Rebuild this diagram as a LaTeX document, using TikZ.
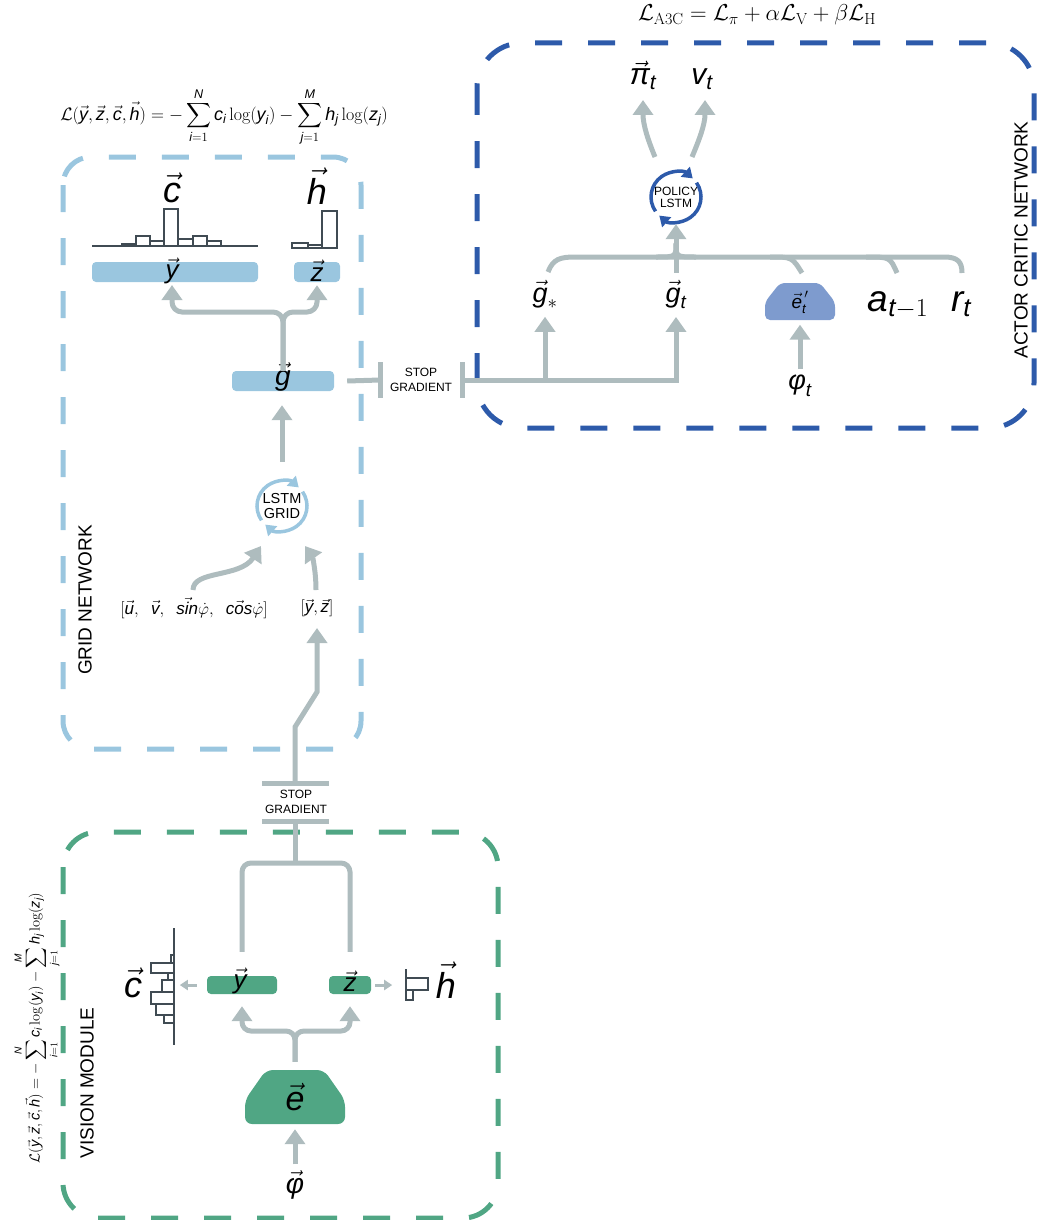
\RequirePackage{fix-cm}
\documentclass[tikz,border=0pt]{standalone}
\usepackage{amsmath}
\usepackage{exscale}
\usepackage{fontspec}
\setsansfont{Liberation Sans}
\usetikzlibrary{arrows.meta}

\definecolor{flowgray}{HTML}{AEBCBE}
\definecolor{gridblue}{HTML}{9AC6DF}
\definecolor{acblue}{HTML}{2D5AAA}
\definecolor{visgreen}{HTML}{50A684}
\definecolor{eblue}{HTML}{7E9BCE}
\definecolor{histgray}{HTML}{404B53}

\newcommand{\fs}[1]{\fontsize{#1}{#1}\selectfont}
\newcommand{\sv}[1]{\text{\sffamily\itshape #1}}
\newcommand{\celoss}{\mathcal{L}(\vec{\sv{y}},\vec{\sv{z}},\vec{\sv{c}},\vec{\sv{h}})=-\sum_{\sv{i}=1}^{\sv{N}}\sv{c}_{\sv{i}}\log(\sv{y}_{\sv{i}})-\sum_{\sv{j}=1}^{\sv{M}}\sv{h}_{\sv{j}}\log(\sv{z}_{\sv{j}})}

\begin{document}
\begin{tikzpicture}[x=1pt,y=1pt]
    \tikzstyle{flowarrow}=[draw=flowgray,line width=5pt,-{Triangle[width=20pt,length=15pt]}]
    \tikzstyle{wire}=[draw=flowgray,line width=5pt]
    \tikzstyle{sidearrow}=[draw=flowgray,line width=3pt,-{Triangle[width=10pt,length=8pt]}]
    \tikzstyle{module}=[line width=5pt,dash pattern=on 27pt off 26pt]
    \tikzstyle{featbar}=[rectangle,rounded corners=4pt,minimum height=20pt,inner sep=0pt]
    \tikzstyle{histline}=[draw=histgray,line width=1.1pt]
    \tikzstyle{modlabel}=[font=\sffamily\fs{19},rotate=90]
    \tikzstyle{sgtext}=[font=\sffamily\fontsize{12}{15}\selectfont,align=center,inner sep=0pt]
    \tikzstyle{lstm}=[circle,minimum size=54pt,inner sep=0pt,align=center]
    \tikzstyle{cyclearrow}=[line width=3.5pt,-{Triangle[width=13pt,length=10pt]}]
    \tikzstyle{var}=[inner sep=0pt]

    \useasboundingbox (0,0) rectangle (1038,-1220);

    % actor critic network
    \draw[module,draw=acblue,rounded corners=45pt] (477,-43) rectangle (1034,-428);
    \node[modlabel] (aclabel) at (1021,-240) {ACTOR CRITIC NETWORK};
    \node[font=\fs{23}] (acloss) at (757,-15) {$\mathcal{L}_{\mathrm{A3C}}=\mathcal{L}_{\pi}+\alpha\mathcal{L}_{\mathrm{V}}+\beta\mathcal{L}_{\mathrm{H}}$};

    \node[var,font=\fs{30},anchor=base] (pi) at (643,-85) {$\vec{\sv{π}}_{\sv{t}}$};
    \node[var,font=\fs{30},anchor=base] (v) at (702,-85) {$\sv{v}_{\sv{t}}$};
    \node[lstm,font=\sffamily\fs{12}] (policy) at (676,-197) {POLICY\\LSTM};
    \foreach \s/\e in {215/48,35/-132}
        \draw[cyclearrow,acblue] (policy.center) ++(\s:25) arc[start angle=\s,end angle=\e,radius=25];
    \draw[flowarrow] (655,-157) .. controls (648,-140) and (643,-125) .. (643,-100);
    \draw[flowarrow] (692,-157) .. controls (699,-140) and (705,-125) .. (705,-100);

    \node[var,font=\fs{27},anchor=base] (gstar) at (545,-302) {$\vec{\sv{g}}_{*}$};
    \node[var,font=\fs{27},anchor=base] (gt) at (676,-302) {$\vec{\sv{g}}_{\sv{t}}$};
    \fill[eblue,rounded corners=5pt] (765,-320) -- (835,-320) -- (835,-302) -- (820,-283) -- (780,-283) -- (765,-302) -- cycle;
    \node[minimum width=70pt,minimum height=37pt,inner sep=0pt,font=\fs{19}] (eprime) at (800,-302) {$\vec{\sv{e}}_{\sv{t}}^{\,\prime}$};
    \node[var,font=\fs{37},anchor=base] (atm) at (898,-311) {$\sv{a}_{\sv{t}-1}$};
    \node[var,font=\fs{37},anchor=base] (rt) at (961,-311) {$\sv{r}_{\sv{t}}$};
    \node[var,font=\fs{27}] (phit) at (800,-386) {$\sv{φ}_{\sv{t}}$};

    % merge into the policy lstm
    \draw[wire] (548,-272) .. controls (553,-259) and (560,-257) .. (575,-257) -- (944,-257) .. controls (958,-257) and (962,-262) .. (962,-273);
    \draw[wire] (770,-257) .. controls (792,-257) .. (802,-273);
    \draw[wire] (866,-257) .. controls (890,-257) .. (897,-273);
    \draw[wire] (656,-257) .. controls (676,-257) .. (676,-243);
    \draw[wire] (696,-257) .. controls (676,-257) .. (676,-243);
    \draw[flowarrow,shorten <=7pt] (gt.north) -- (policy.south);
    \draw[flowarrow,shorten <=6pt,shorten >=4pt] (phit.north) -- (eprime.south);

    % stop gradient to the actor critic
    \node[featbar,fill=gridblue,minimum width=102pt] (gbar) at (283,-381) {};
    \node[sgtext] (sgac) at (421,-380) {STOP\\GRADIENT};
    \draw[wire] ([xshift=13pt]gbar.east) -- (380,-380);
    \draw[wire] (380,-362) -- (380,-398);
    \draw[wire] (462,-362) -- (462,-398);
    \draw[flowarrow,shorten >=8pt] (462,-380) -| (gt.south);
    \draw[flowarrow,shorten >=8pt] (545,-380) -- (gstar.south);

    % grid network
    \draw[module,draw=gridblue,rounded corners=28pt] (63,-157) rectangle (361,-749);
    \node[modlabel] (gridlabel) at (85,-600) {GRID NETWORK};
    \node[font=\fs{18}] (gridloss) at (224,-117) {$\displaystyle\celoss$};

    \node[var,font=\fs{36}] (gc) at (172,-188) {$\vec{\sv{c}}$};
    \node[var,font=\fs{36}] (gh) at (317,-186) {$\vec{\sv{h}}$};
    \draw[histline] (92,-246) -- (258,-246);
    \foreach \xa/\xb/\ht in {122/136/2,136/150/10,150/164/5,164/178/37,178/193/7,193/207/10,207/221/5}
        \draw[histline] (\xa,-246) rectangle (\xb,-246+\ht);
    \foreach \xa/\xb/\ht in {292/308/5,308/322/3,322/337/37}
        \draw[histline] (\xa,-248) rectangle (\xb,-248+\ht);

    \node[featbar,fill=gridblue,minimum width=166pt] (ybar) at (175,-272) {};
    \node[var,font=\fs{26}] (ylab) at (172,-271) {$\vec{\sv{y}}$};
    \node[featbar,fill=gridblue,minimum width=46pt] (zbar) at (317,-272) {};
    \node[var,font=\fs{26}] (zlab) at (317,-271) {$\vec{\sv{z}}$};
    \node[var,font=\fs{28}] (glab) at (283,-377) {$\vec{\sv{g}}$};

    \draw[flowarrow,rounded corners=10pt,shorten >=3pt] (gbar.north) -- (283,-312) -| (172,-282);
    \draw[flowarrow,rounded corners=10pt,shorten >=3pt] (gbar.north) -- (283,-312) -| (zbar.south);

    \node[lstm,font=\sffamily\fs{14.5}] (gridlstm) at (282,-506) {LSTM\\GRID};
    \foreach \s/\e in {215/48,35/-132}
        \draw[cyclearrow,gridblue] (gridlstm.center) ++(\s:25) arc[start angle=\s,end angle=\e,radius=25];
    \draw[flowarrow,shorten <=17pt,shorten >=14pt] (gridlstm.north) -- (gridlstm.north |- gbar.south);

    \node[var,font=\fs{17}] (inputs) at (194,-608) {$[\vec{\sv{u}},\;\;\vec{\sv{v}},\;\;\vec{\sv{sin}}\dot{\varphi},\;\;\vec{\sv{cos}}\dot{\varphi}]$};
    \node[var,font=\fs{17}] (yz) at (317,-608) {$[\vec{\sv{y}},\vec{\sv{z}}]$};
    \draw[flowarrow] (193,-590) .. controls (193,-570) and (240,-578) .. (261,-546);
    \draw[flowarrow] (316,-590) .. controls (316,-570) and (312,-556) .. (305,-546);

    % stop gradient to the grid network
    \node[sgtext] (sggrid) at (296,-802) {STOP\\GRADIENT};
    \draw[wire] (262,-783) -- (329,-783);
    \draw[wire] (262,-821) -- (329,-821);
    \draw[flowarrow] (295,-783) -- (295,-727) -- (317,-692) -- (317,-628);

    % vision module
    \draw[module,draw=visgreen,rounded corners=35pt] (63,-832) rectangle (498,-1218);
    \node[modlabel] (vislabel) at (87,-1083) {VISION MODULE};
    \node[font=\fs{14.5},rotate=90] (visloss) at (37,-1028) {$\displaystyle\celoss$};

    \node[featbar,fill=visgreen,minimum width=70pt,minimum height=18pt] (vy) at (242,-985) {};
    \node[var,font=\fs{26}] (vylab) at (240,-981) {$\vec{\sv{y}}$};
    \node[featbar,fill=visgreen,minimum width=42pt,minimum height=18pt] (vz) at (350,-985) {};
    \node[var,font=\fs{26}] (vzlab) at (350,-981) {$\vec{\sv{z}}$};
    \coordinate (vsplit) at (295,-863);
    \draw[wire,rounded corners=9pt,shorten <=24pt,shorten >=24pt] (vy.north) |- (vsplit) -| (vz.north);
    \draw[wire] (vsplit) -- (295,-821);

    \fill[visgreen,rounded corners=7pt] (245,-1124) -- (345,-1124) -- (345,-1100) -- (324,-1070) -- (266,-1070) -- (245,-1100) -- cycle;
    \node[minimum width=100pt,minimum height=54pt,inner sep=0pt,font=\fs{34}] (enc) at (295,-1097) {$\vec{\sv{e}}$};
    \draw[flowarrow,rounded corners=9pt,shorten <=8pt,shorten >=12pt] (enc.north) -- (295,-1031) -| (vy.south);
    \draw[flowarrow,rounded corners=9pt,shorten <=8pt,shorten >=12pt] (enc.north) -- (295,-1031) -| (vz.south);
    \node[var,font=\fs{28}] (phi) at (295,-1185) {$\vec{\sv{φ}}$};
    \draw[flowarrow,shorten <=6pt,shorten >=5pt] (phi.north) -- (enc.south);

    \draw[sidearrow] ([xshift=-10pt]vy.west) -- ([xshift=-27pt]vy.west);
    \draw[sidearrow] ([xshift=4pt]vz.east) -- ([xshift=21pt]vz.east);

    \node[var,font=\fs{36}] (vc) at (133,-983) {$\vec{\sv{c}}$};
    \node[var,font=\fs{36}] (vh) at (446,-980) {$\vec{\sv{h}}$};
    \draw[histline] (174,-928) -- (174,-1045);
    \foreach \ya/\yb/\w in {955/963/3,963/973/23,973/980/6,980/992/12,992/1004/23,1004/1015/18,1015/1023/10}
        \draw[histline] (174,-\ya) rectangle (174-\w,-\yb);
    \draw[histline] (406,-969) -- (406,-1000);
    \draw[histline] (406,-978) rectangle (428,-990);
    \draw[histline] (406,-990) rectangle (413,-1000);
\end{tikzpicture}
\end{document}
